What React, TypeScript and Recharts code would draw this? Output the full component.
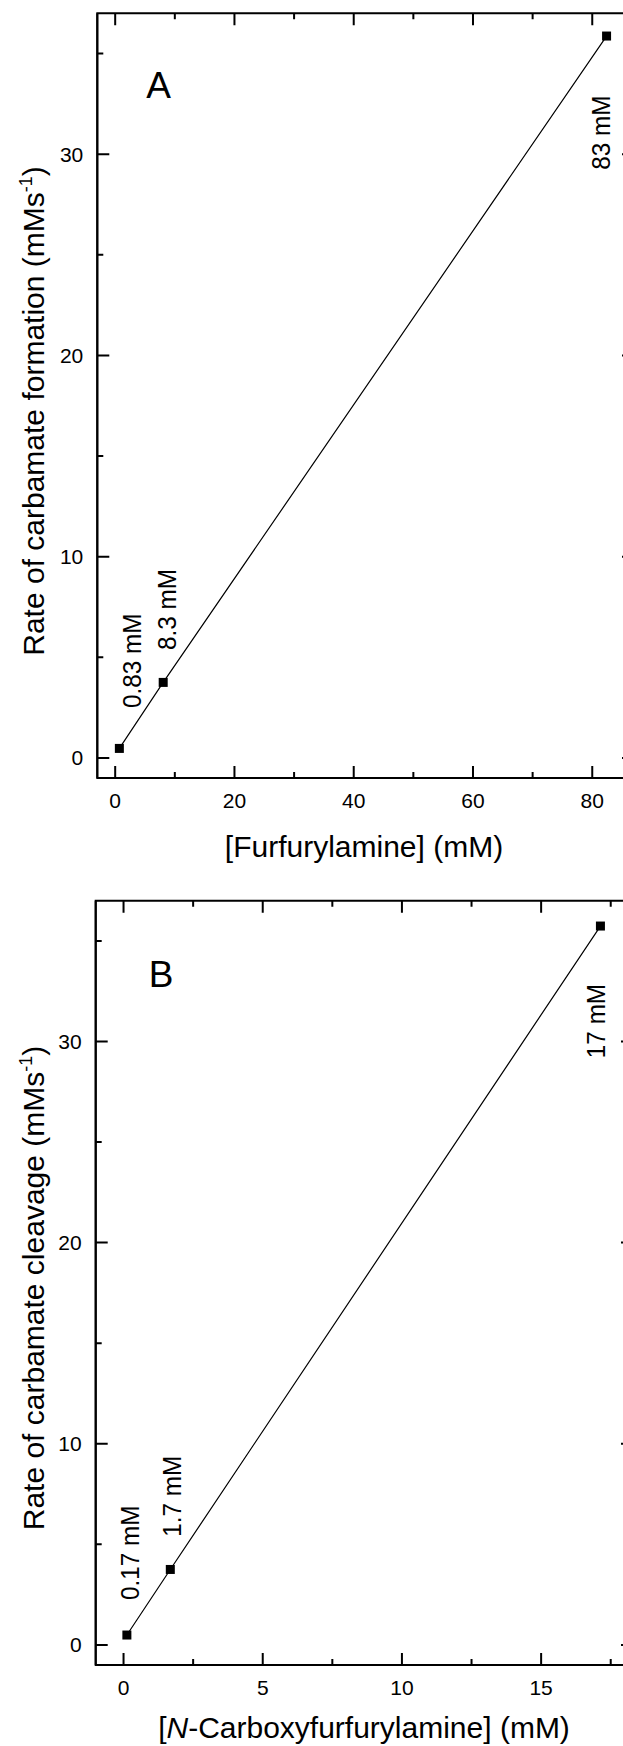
import React from 'react';
import { LineChart, Line, XAxis, YAxis, LabelList, ReferenceLine, ReferenceArea } from 'recharts';

// ---------- Panel A data ----------
const aConc = [0.7, 8.05, 82.4];
const aRate = [0.47, 3.75, 35.87];
const aLabels = ['0.83 mM', '8.3 mM', '83 mM'];
const aXMajor = [0, 20, 40, 60, 80];
const aXMinor = [10, 30, 50, 70];

// ---------- Panel B data ----------
const bConc = [0.12, 1.68, 17.13];
const bRate = [0.49, 3.75, 35.74];
const bLabels = ['0.17 mM', '1.7 mM', '17 mM'];
const bXMajor = [0, 5, 10, 15];
const bXMinor = [2.5, 7.5, 12.5, 17.5];

// ---------- shared y ticks ----------
const yMajor = [0, 10, 20, 30];
const yMinor = [5, 15, 25, 35];
const yDomain = [-1, 37];

const aData = aConc.map((x, i) => ({ x, y: aRate[i], label: aLabels[i] }));
const bData = bConc.map((x, i) => ({ x, y: bRate[i], label: bLabels[i] }));

// ---------- layout / style ----------
const FONT = 'Arial, "Liberation Sans", Helvetica, sans-serif';
const BLACK = '#000';
const YAXIS_W = 60;
const MAJOR = 12;
const MINOR = 6;
const aOffsets = [
  { dx: 12.3, dy: -40.4 },
  { dx: 3.5, dy: -32.4 },
  { dx: -5.6, dy: 133.8 },
];
const bOffsets = [
  { dx: 3.2, dy: -35 },
  { dx: 1.4, dy: -32.8 },
  { dx: -4.4, dy: 132.1 },
];
const CHAR_W: Record<string, number> = { '.': 0.278, ' ': 0.278, m: 0.833, M: 0.833 };
const textLen = (s: string) =>
  s.split('').reduce((acc, c) => acc + (CHAR_W[c] ?? 0.556), 0) * 24.3;

const Square = (props: any) => {
  const { cx, cy, index } = props;
  if (cx == null || cy == null) return <g key={`sq-${index}`} />;
  return <rect key={`sq-${index}`} x={cx - 4.5} y={cy - 4.5} width={9} height={9} fill={BLACK} />;
};

const makeAnno = (offsets: { dx: number; dy: number }[]) => (props: any) => {
  const { value, index } = props;
  const x = props.x ?? props.viewBox?.x;
  const y = props.y ?? props.viewBox?.y;
  const o = offsets[index] || { dx: 0, dy: 0 };
  const s = String(value);
  return (
    <text
      key={`an-${index}`}
      transform={`translate(${x + o.dx},${y + o.dy}) rotate(-90)`}
      textAnchor="start"
      dominantBaseline="central"
      fontSize={26}
      fontFamily={FONT}
      fill={BLACK}
      textLength={textLen(s)}
      lengthAdjust="spacingAndGlyphs"
    >
      {s}
    </text>
  );
};

const yTitle = (main: string, cy: number) => () => (
  <text
    transform={`translate(43.5,${cy}) rotate(-90)`}
    textAnchor="middle"
    fontSize={30}
    fontFamily={FONT}
    fill={BLACK}
  >
    {main}
    <tspan fontSize={18} dy={-12}>-1</tspan>
    <tspan fontSize={30} dy={12}>)</tspan>
  </text>
);

const tickStyle = { fill: BLACK, fontSize: 21, fontFamily: FONT };
const lineStyle = { stroke: BLACK, strokeWidth: 2 };

type PanelProps = {
  data: any[];
  width: number;
  height: number;
  margin: { top: number; right: number; bottom: number; left: number };
  xDomain: number[];
  xMajor: number[];
  xMinor: number[];
  xHeight: number;
  xTitle: any;
  yTitleFn: any;
  offsets: { dx: number; dy: number }[];
};

function Panel(p: PanelProps) {
  const plotW = p.width - p.margin.left - p.margin.right - YAXIS_W;
  const plotH = p.height - p.margin.top - p.margin.bottom - p.xHeight;
  const vDash = (t: number) => `${t} ${plotH - 2 * t} ${t}`;
  const hDash = (t: number) => `${t} ${plotW - 2 * t} ${t}`;
  return (
    <LineChart width={p.width} height={p.height} data={p.data} margin={p.margin}>
      <XAxis xAxisId="xl" type="number" dataKey="x" domain={p.xDomain} allowDataOverflow ticks={p.xMajor} interval={0}
        tickLine={false} tickSize={0} tickMargin={15} axisLine={lineStyle} tick={tickStyle} height={p.xHeight} label={p.xTitle} />
      <YAxis yAxisId="yl" type="number" dataKey="y" domain={yDomain} allowDataOverflow ticks={yMajor} interval={0}
        tickLine={false} tickSize={0} tickMargin={14} axisLine={lineStyle} tick={tickStyle} width={YAXIS_W} label={p.yTitleFn} />
      <ReferenceArea xAxisId="xl" yAxisId="yl" x1={p.xDomain[0]} x2={p.xDomain[1]} y1={yDomain[0]} y2={yDomain[1]}
        fill="none" fillOpacity={0} stroke={BLACK} strokeWidth={2} ifOverflow="visible" />
      {p.xMajor.map((v) => (
        <ReferenceLine key={`xM${v}`} xAxisId="xl" yAxisId="yl" x={v} stroke={BLACK} strokeWidth={2} strokeDasharray={vDash(MAJOR)} />
      ))}
      {p.xMinor.map((v) => (
        <ReferenceLine key={`xm${v}`} xAxisId="xl" yAxisId="yl" x={v} stroke={BLACK} strokeWidth={2} strokeDasharray={vDash(MINOR)} />
      ))}
      {yMajor.map((v) => (
        <ReferenceLine key={`yM${v}`} xAxisId="xl" yAxisId="yl" y={v} stroke={BLACK} strokeWidth={2} strokeDasharray={hDash(MAJOR)} />
      ))}
      {yMinor.map((v) => (
        <ReferenceLine key={`ym${v}`} xAxisId="xl" yAxisId="yl" y={v} stroke={BLACK} strokeWidth={2} strokeDasharray={hDash(MINOR)} />
      ))}
      <Line xAxisId="xl" yAxisId="yl" type="linear" dataKey="y" stroke={BLACK} strokeWidth={1.2}
        dot={Square} activeDot={false} isAnimationActive={false}>
        <LabelList dataKey="label" content={makeAnno(p.offsets)} />
      </Line>
    </LineChart>
  );
}

const xTitleA = () => (
  <text x={364} y={857} textAnchor="middle" fontSize={30} fontFamily={FONT} fill={BLACK}>
    [Furfurylamine] (mM)
  </text>
);
const xTitleB = () => (
  <text x={364} y={858} textAnchor="middle" fontSize={30} fontFamily={FONT} fill={BLACK}>
    [<tspan fontStyle="italic">N</tspan>-Carboxyfurfurylamine] (mM)
  </text>
);

export default function App() {
  return (
    <div style={{ position: 'absolute', left: 0, top: 0, width: 623, height: 1746, overflow: 'hidden', background: '#fff' }}>
      <div style={{ position: 'absolute', left: 0, top: 0 }}>
        <Panel data={aData} width={690} height={880} margin={{ top: 13.3, right: 56, bottom: 0, left: 37.3 }}
          xDomain={[-3, 87]} xMajor={aXMajor} xMinor={aXMinor} xHeight={102} xTitle={xTitleA}
          yTitleFn={yTitle('Rate of carbamate formation (mMs', 411)} offsets={aOffsets} />
      </div>
      <div style={{ position: 'absolute', left: 0, top: 880 }}>
        <Panel data={bData} width={690} height={866} margin={{ top: 20.7, right: 57, bottom: 0, left: 35.7 }}
          xDomain={[-1, 18.3]} xMajor={bXMajor} xMinor={bXMinor} xHeight={81} xTitle={xTitleB}
          yTitleFn={yTitle('Rate of carbamate cleavage (mMs', 408)} offsets={bOffsets} />
      </div>
      <svg width={623} height={1746} style={{ position: 'absolute', left: 0, top: 0, pointerEvents: 'none' }}>
        <text x={158.7} y={98.3} textAnchor="middle" fontSize={37} fontFamily={FONT} fill={BLACK}>A</text>
        <text x={161.2} y={986.7} textAnchor="middle" fontSize={37} fontFamily={FONT} fill={BLACK}>B</text>
      </svg>
    </div>
  );
}
